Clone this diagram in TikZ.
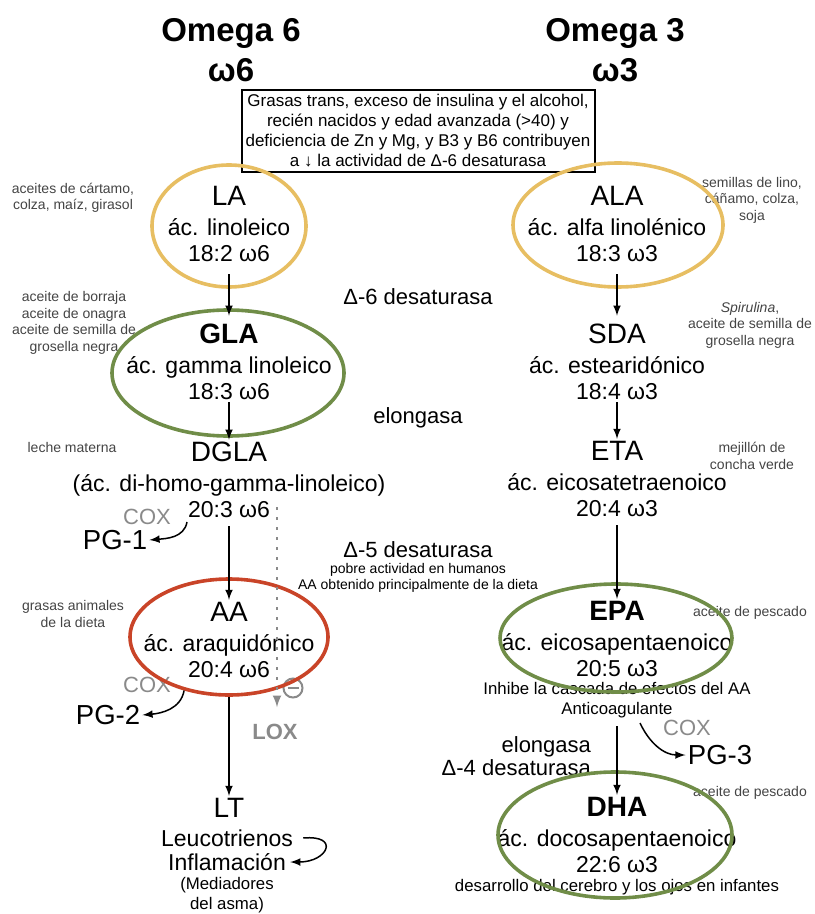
\documentclass[tikz,border=0pt]{standalone}
\usepackage{fontspec}
\setmainfont{Liberation Sans}
\usepackage{tikz}
\usetikzlibrary{shapes,arrows,positioning,fit}
\def \px {0.5pt}
\def \acr {\fontsize{14}{14}\selectfont}
\definecolor{ringgold}{RGB}{231,190,98}
\definecolor{ringgreen}{RGB}{112,141,72}
\definecolor{ringred}{RGB}{201,68,40}
\definecolor{notegray}{RGB}{68,68,68}
\definecolor{coxgray}{RGB}{138,138,138}

\begin{document}
\begin{tikzpicture}[x=\px,y=-\px,>=latex,
    acid/.style={align=center,inner sep=1pt,font=\fontsize{11.5}{13}\selectfont},
    ring/.style={ellipse,draw=#1,line width=1.8pt,inner sep=0pt},
    note/.style={align=center,text=notegray,inner sep=0pt,font=\fontsize{7}{8.3}\selectfont},
    title/.style={align=center,font=\fontsize{16.5}{20}\selectfont\bfseries},
    enz/.style={align=center,font=\fontsize{11}{11.5}\selectfont},
    cox/.style={text=coxgray,inner sep=1pt,font=\fontsize{11}{12}\selectfont},
    pg/.style={inner sep=1pt,font=\fontsize{13.75}{15}\selectfont},
    eff/.style={align=center,inner sep=1pt,font=\fontsize{8.4}{10}\selectfont},
    flow/.style={->,line width=0.75pt}]
  \useasboundingbox (0,0) rectangle (814,914);

  % titles and the box
  \node[title] (om6) at (231,50) {Omega 6\\ω6};
  \node[title] (om3) at (615,50) {Omega 3\\ω3};
  \node[draw,line width=1pt,align=center,inner sep=0pt,
        minimum width=353*\px,minimum height=82*\px,
        font=\fontsize{8.5}{10}\selectfont] (trans) at (418,131)
    {Grasas trans, exceso de insulina y el alcohol,\\recién nacidos y edad avanzada (>40) y\\
     deficiencia de Zn y Mg, y B3 y B6 contribuyen\\a ↓ la actividad de Δ-6 desaturasa};

  % omega 6 chain
  \node[acid] (LA) at (229,224) {{\acr LA}\\[2pt]ác. linoleico\\18:2 ω6};
  \node[acid] (GLA) at (229,362) {{\acr\bfseries GLA}\\[2pt]ác. gamma linoleico\\18:3 ω6};
  \node[acid] (DGLA) at (229,480) {{\acr DGLA}\\[2pt](ác. di-homo-gamma-linoleico)\\20:3 ω6};
  \node[acid] (AA) at (229,640) {{\acr AA}\\[2pt]ác. araquidónico\\20:4 ω6};
  \node[acid] (LT) at (229,808) {\acr LT};
  \node[acid] (Leu) at (227,838) {Leucotrienos};
  \node[acid] (Infl) at (227,862) {Inflamación};
  \node[eff] (asma) at (227,895) {(Mediadores\\del asma)};

  % omega 3 chain
  \node[acid] (ALA) at (617,224) {{\acr ALA}\\[2pt]ác. alfa linolénico\\18:3 ω3};
  \node[acid] (SDA) at (617,362) {{\acr SDA}\\[2pt]ác. estearidónico\\18:4 ω3};
  \node[acid] (ETA) at (617,479) {{\acr ETA}\\[2pt]ác. eicosatetraenoico\\20:4 ω3};
  \node[acid] (EPA) at (617,639) {{\acr\bfseries EPA}\\[2pt]ác. eicosapentaenoico\\20:5 ω3};
  \node[eff] (EPAfx) at (617,700) {Inhibe la cascada de efectos del AA\\Anticoagulante};
  \node[acid] (DHA) at (617,835) {{\acr\bfseries DHA}\\[2pt]ác. docosapentaenoico\\22:6 ω3};
  \node[eff] (DHAfx) at (617,887) {desarrollo del cerebro y los ojos en infantes};

  % enzymes
  \node[enz] (d6) at (418,297) {Δ-6 desaturasa};
  \node[enz] (elo) at (418,418) {elongasa};
  \node[enz] (d5) at (418,550) {Δ-5 desaturasa};
  \node[note,text=black] (d5note) at (418,578) {pobre actividad en humanos\\AA obtenido principalmente de la dieta};
  \node[enz,align=right,anchor=east] (d4) at (598,756) {elongasa\\Δ-4 desaturasa};

  % sources
  \node[note] (srcLA) at (73,198) {aceites de cártamo,\\colza, maíz, girasol};
  \node[note] (srcGLA) at (74,323) {aceite de borraja\\aceite de onagra\\aceite de semilla de\\grosella negra};
  \node[note] (srcDGLA) at (72,447) {leche materna};
  \node[note] (srcAA) at (73,614) {grasas animales\\de la dieta};
  \node[note] (srcALA) at (752,200) {semillas de lino,\\cáñamo, colza,\\soja};
  \node[note] (srcSDA) at (750,325) {\textit{Spirulina},\\aceite de semilla de\\grosella negra};
  \node[note] (srcETA) at (752,456) {mejillón de\\concha verde};
  \node[note] (srcEPA) at (750,613) {aceite de pescado};
  \node[note] (srcDHA) at (750,793) {aceite de pescado};

  % prostaglandins
  \node[cox] (cox1) at (147,517) {COX};
  \node[pg] (PG1) at (115,540) {PG-1};
  \node[cox] (cox2) at (147,685) {COX};
  \node[pg] (PG2) at (108,715) {PG-2};
  \node[cox] (cox3) at (687,728) {COX};
  \node[pg] (PG3) at (720,755) {PG-3};
  \node[text=coxgray,font=\fontsize{11}{12}\selectfont\bfseries] (LOX) at (275,732) {LOX};
  \node[circle,draw=coxgray,line width=1pt,minimum size=19*\px,inner sep=0pt] (inh) at (293,688) {};
  \draw[coxgray,line width=1pt,shorten <=2.5pt,shorten >=2.5pt] (inh.west) -- (inh.east);

  % rings
  \node[ring=ringgold,minimum width=154*\px,minimum height=122*\px] (LAring) at (229,226) {};
  \node[ring=ringgold,minimum width=210*\px,minimum height=124*\px] (ALAring) at (618,225) {};
  \node[ring=ringgreen,minimum width=232*\px,minimum height=126*\px] (GLAring) at (228,373) {};
  \node[ring=ringred,minimum width=198*\px,minimum height=116*\px] (AAring) at (229,637) {};
  \node[ring=ringgreen,minimum width=232*\px,minimum height=108*\px] (EPAring) at (616,638) {};
  \node[ring=ringgreen,minimum width=234*\px,minimum height=126*\px] (DHAring) at (615,835) {};

  % arrows
  \draw[flow,shorten <=5pt,shorten >=3pt] (LA.south) -- (GLA.north);
  \draw[flow] (GLA.south) -- (DGLA.north);
  \draw[flow,shorten <=3pt] (DGLA.south) -- (AA.north);
  \draw[flow] (AAring.south) -- (LT.north);
  \draw[flow,shorten <=5pt,shorten >=3pt] (ALA.south) -- (SDA.north);
  \draw[flow] (SDA.south) -- (ETA.north);
  \draw[flow,shorten <=3pt] (ETA.south) -- (EPA.north);
  \draw[flow,shorten <=3pt] (EPAfx.south) -- (DHA.north);

  \coordinate (c1) at (187,522);
  \coordinate (c3) at (640,723);
  \coordinate (lox) at (277,507);
  \draw[flow] (c1) to[out=-100,in=5] (PG1.east);
  \draw[flow] (AAring.230) to[out=-100,in=5] (PG2.east);
  \draw[flow] (c3) to[out=-65,in=180] (PG3.west);
  \draw[flow] ([xshift=4pt]Leu.east) to[out=5,in=0,looseness=3.5] ([xshift=1pt]Infl.east);
  \draw[->,coxgray,line width=1pt,dash pattern=on 1.5pt off 3.5pt,shorten >=5pt] (lox) -- (lox |- LOX.north);
\end{tikzpicture}
\end{document}
